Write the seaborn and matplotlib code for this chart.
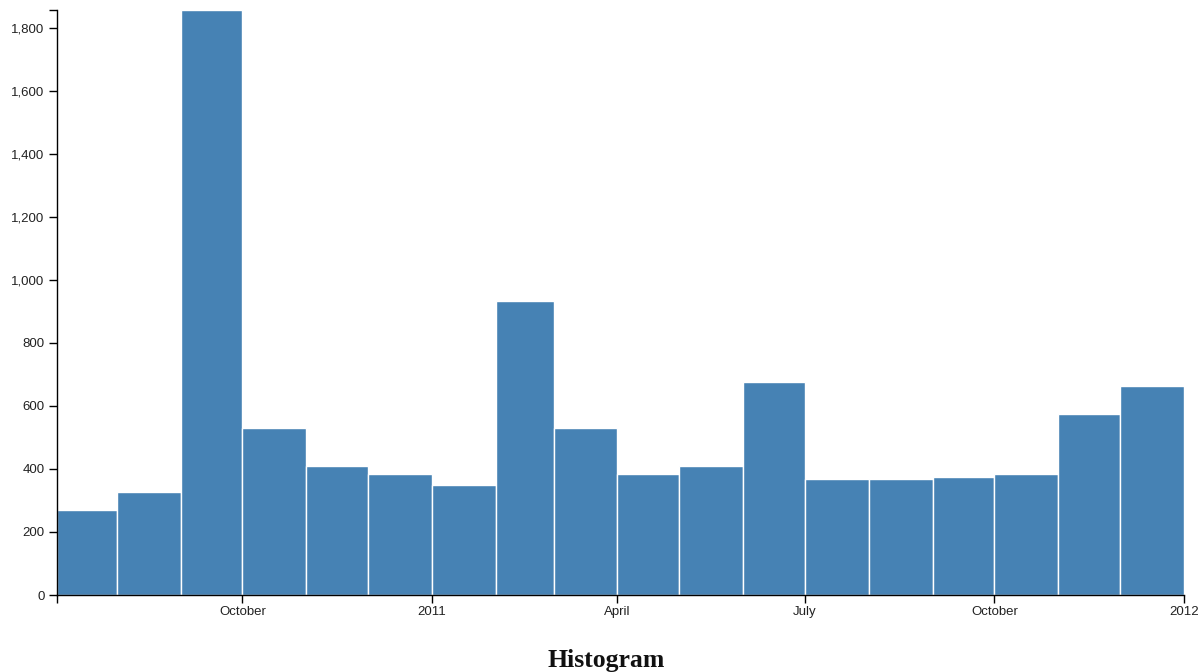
import matplotlib
matplotlib.use("Agg")
import matplotlib.pyplot as plt
import matplotlib.dates as mdates
import numpy as np
import pandas as pd
import seaborn as sns

# Monthly bins (first bin starts mid-way through the first month)
bin_starts = ["2010-07-03", "2010-08-01", "2010-09-01", "2010-10-01", "2010-11-01",
              "2010-12-01", "2011-01-01", "2011-02-01", "2011-03-01", "2011-04-01",
              "2011-05-01", "2011-06-01", "2011-07-01", "2011-08-01", "2011-09-01",
              "2011-10-01", "2011-11-01", "2011-12-01"]
bin_end = "2012-01-01"
counts = [270, 327, 1857, 530, 410, 384, 349, 934, 530, 384,
          410, 676, 368, 368, 375, 384, 575, 664]

tick_dates = ["2010-10-01", "2011-01-01", "2011-04-01", "2011-07-01", "2011-10-01", "2012-01-01"]
tick_labels = ["October", "2011", "April", "July", "October", "2012"]
y_ticks = [0, 200, 400, 600, 800, 1000, 1200, 1400, 1600, 1800]
title = "Histogram"

sns.set_theme(style="white")
plt.rcParams["font.family"] = ["Liberation Sans", "DejaVu Sans"]

def to_num(s):
    return float(mdates.date2num(pd.to_datetime(s)))

starts = [to_num(s) for s in bin_starts]
edges = starts + [to_num(bin_end)]
df = pd.DataFrame({"date": starts, "count": counts})

fig = plt.figure(figsize=(12.04, 6.72), dpi=100)
ax = fig.add_axes([57 / 1204, 77 / 672, (1184 - 57) / 1204, (595 - 10) / 672])

sns.histplot(data=df, x="date", weights="count", bins=edges, ax=ax,
             color="#4682b4", alpha=1, edgecolor="white", linewidth=1)

ymax = max(counts)
ax.set_xlim(edges[0], edges[-1])
ax.set_ylim(0, ymax)

ax.set_xticks([edges[0]] + [to_num(d) for d in tick_dates])
ax.set_xticklabels([""] + tick_labels)
ax.set_yticks(y_ticks + [ymax])
ax.set_yticklabels([f"{v:,}" for v in y_ticks] + [""])

ax.set_xlabel("")
ax.set_ylabel("")
for side in ("top", "right"):
    ax.spines[side].set_visible(False)
for side in ("left", "bottom"):
    ax.spines[side].set_color("black")
    ax.spines[side].set_linewidth(1)

ax.tick_params(axis="both", which="major", direction="out", length=6, width=1,
               color="black", labelsize=9.5, labelcolor="#222222", pad=3)
ax.tick_params(axis="x", pad=2)
ax.tick_params(left=True, bottom=True)
ax.grid(False)

fig.text(606 / 1204, 5 / 672, title, ha="center", va="baseline",
         fontsize=18.5, fontweight="bold", family=["Liberation Serif", "DejaVu Serif"],
         color="#111111")

fig.savefig("out.png", dpi=100)
